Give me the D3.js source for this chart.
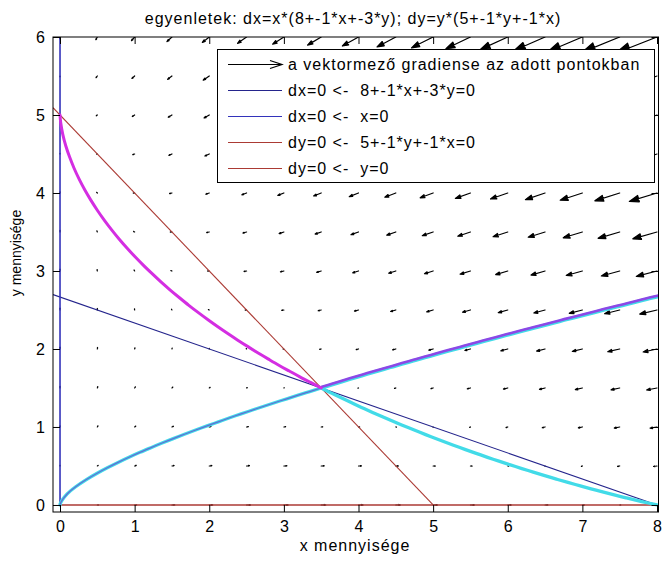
<!DOCTYPE html>
<html><head><meta charset="utf-8">
<script src="https://cdn.jsdelivr.net/npm/d3@7"></script>
<style>
html,body{margin:0;padding:0;background:#fff;}
svg{display:block;font-family:"Liberation Sans",Arial,Helvetica,sans-serif;}
</style></head><body>
<svg id="chart" width="663" height="564"></svg>
<script>
// Lotka–Volterra competition model: dx = x*(a0 + a1*x + a2*y), dy = y*(b0 + b1*y + b2*x)
const dxCoef = [8, -1, -3];
const dyCoef = [5, -1, -1];

// axis ticks
const xTicks = [0, 1, 2, 3, 4, 5, 6, 7, 8];
const yTicks = [0, 1, 2, 3, 4, 5, 6];

// sample points of the direction field
const gridX = [0, 0.5, 1, 1.5, 2, 2.5, 3, 3.5, 4, 4.5, 5, 5.5, 6, 6.5, 7, 7.5, 8];
const gridY = [0, 0.5, 1, 1.5, 2, 2.5, 3, 3.5, 4, 4.5, 5, 5.5, 6];

// separatrices through the saddle point (3.5, 1.5)
const toUpperLeft = [[3.500,1.500],[3.357,1.571],[3.214,1.643],[3.073,1.717],[2.932,1.792],[2.793,1.870],[2.655,1.949],[2.518,2.030],[2.382,2.113],[2.248,2.198],[2.115,2.285],[1.983,2.375],[1.854,2.466],[1.726,2.560],[1.601,2.657],[1.477,2.756],[1.356,2.857],[1.238,2.962],[1.122,3.069],[1.009,3.179],[0.900,3.292],[0.794,3.408],[0.692,3.528],[0.595,3.650],[0.502,3.776],[0.415,3.905],[0.333,4.038],[0.258,4.174],[0.190,4.314],[0.130,4.457],[0.078,4.603],[0.037,4.752],[0.009,4.903],[0.000,5.000]];
const toLowerRight = [[3.500,1.500],[3.644,1.431],[3.789,1.364],[3.935,1.298],[4.081,1.233],[4.228,1.170],[4.376,1.109],[4.524,1.048],[4.673,0.989],[4.822,0.932],[4.972,0.875],[5.122,0.820],[5.273,0.766],[5.425,0.713],[5.577,0.662],[5.729,0.611],[5.882,0.562],[6.035,0.514],[6.189,0.467],[6.342,0.421],[6.496,0.376],[6.651,0.332],[6.806,0.289],[6.961,0.248],[7.116,0.207],[7.271,0.168],[7.427,0.129],[7.584,0.092],[7.741,0.056],[7.898,0.022],[8.000,0.000]];
const fromOrigin = [[3.500,1.500],[3.346,1.454],[3.192,1.408],[3.039,1.361],[2.885,1.314],[2.732,1.266],[2.579,1.217],[2.426,1.168],[2.274,1.118],[2.122,1.066],[1.970,1.014],[1.818,0.961],[1.667,0.907],[1.517,0.851],[1.368,0.794],[1.219,0.735],[1.071,0.675],[0.924,0.612],[0.778,0.546],[0.634,0.477],[0.492,0.404],[0.353,0.326],[0.220,0.240],[0.096,0.141],[0.003,0.016],[0.000,0.000]];
const fromRight = [[3.500,1.500],[3.654,1.545],[3.808,1.590],[3.963,1.634],[4.117,1.678],[4.272,1.721],[4.427,1.764],[4.582,1.806],[4.736,1.849],[4.891,1.890],[5.047,1.932],[5.202,1.973],[5.357,2.014],[5.512,2.055],[5.668,2.095],[5.823,2.135],[5.979,2.175],[6.134,2.214],[6.290,2.253],[6.446,2.292],[6.601,2.331],[6.757,2.370],[6.913,2.408],[7.069,2.446],[7.225,2.484],[7.381,2.522],[7.537,2.559],[7.693,2.597],[7.849,2.634],[8.005,2.671]];

const titleText = `egyenletek: dx=x*(${dxCoef[0]}+${dxCoef[1]}*x+${dxCoef[2]}*y); dy=y*(${dyCoef[0]}+${dyCoef[1]}*y+${dyCoef[2]}*x)`;
const legendLabels = [
  "a vektormező gradiense az adott pontokban",
  `dx=0 <-  ${dxCoef[0]}+${dxCoef[1]}*x+${dxCoef[2]}*y=0`,
  "dx=0 <-  x=0",
  `dy=0 <-  ${dyCoef[0]}+${dyCoef[1]}*y+${dyCoef[2]}*x=0`,
  "dy=0 <-  y=0"
];

const C = {
  quiver: "#000000",
  dxLine: "#24248c",
  xAxisLine: "#3333bb",
  dyLine: "#ab3a34",
  magenta: "#d42ee2",
  violet: "#8c48e6",
  cyan: "#42dbe8"
};

const svg = d3.select("#chart");
svg.append("rect").attr("width", 663).attr("height", 564).attr("fill", "#fff");

const box = {l: 53, r: 658.5, t: 37, b: 512};
const x = d3.scaleLinear().domain([-0.094, 8.02]).range([box.l, box.r]);
const y = d3.scaleLinear().domain([-0.09, 6]).range([box.b, box.t]);

svg.append("clipPath").attr("id", "plotclip").append("rect")
  .attr("x", box.l).attr("y", box.t).attr("width", box.r - box.l).attr("height", box.b - box.t);
const plot = svg.append("g").attr("clip-path", "url(#plotclip)");

// ---- direction field (quiver with automatic scaling) ----
const field = [];
gridY.forEach(gy => gridX.forEach(gx => {
  const u = gx * (dxCoef[0] + dxCoef[1] * gx + dxCoef[2] * gy);
  const v = gy * (dyCoef[0] + dyCoef[1] * gy + dyCoef[2] * gx);
  field.push({gx, gy, u, v});
}));
const delx = (d3.max(gridX) - d3.min(gridX)) / gridX.length;
const dely = (d3.max(gridY) - d3.min(gridY)) / gridY.length;
const del = delx * delx + dely * dely;
const maxLen = d3.max(field, d => Math.sqrt((d.u * d.u + d.v * d.v) / del));
const autoscale = 0.9 / maxLen;
const alpha = 0.33, beta = 0.33;
const arrowPath = d => {
  const u = d.u * autoscale, v = d.v * autoscale;
  const tx = d.gx + u, ty = d.gy + v;
  const h1x = tx - alpha * (u + beta * v), h1y = ty - alpha * (v - beta * u);
  const h2x = tx - alpha * (u - beta * v), h2y = ty - alpha * (v + beta * u);
  return `M${x(d.gx)},${y(d.gy)}L${x(tx)},${y(ty)}M${x(h1x)},${y(h1y)}L${x(tx)},${y(ty)}L${x(h2x)},${y(h2y)}Z`;
};
plot.append("g").selectAll("path").data(field).join("path")
  .attr("d", arrowPath)
  .attr("fill", C.quiver).attr("stroke", C.quiver).attr("stroke-width", 1.2)
  .attr("stroke-linejoin", "round").attr("stroke-linecap", "round");

// ---- nullclines ----
const xMin = x.domain()[0];
const dxRoot = -dxCoef[0] / dxCoef[1];
const dyRoot = -dyCoef[0] / dyCoef[2];
const dxNull = [[xMin, -(dxCoef[0] + dxCoef[1] * xMin) / dxCoef[2]], [dxRoot, 0]];
const dyNull = [[xMin, -(dyCoef[0] + dyCoef[2] * xMin) / dyCoef[1]], [dyRoot, 0]];
const line = d3.line().x(d => x(d[0])).y(d => y(d[1]));

plot.append("path").attr("d", line(dxNull)).attr("fill", "none").attr("stroke", C.dxLine).attr("stroke-width", 1.1);
plot.append("path").attr("d", line([[0, 0], [0, 6]])).attr("fill", "none").attr("stroke", C.xAxisLine).attr("stroke-width", 1.6);
plot.append("path").attr("d", line(dyNull)).attr("fill", "none").attr("stroke", C.dyLine).attr("stroke-width", 1.1);
plot.append("path").attr("d", line([[0, 0], [8, 0]])).attr("fill", "none").attr("stroke", C.dyLine).attr("stroke-width", 1.5);

// ---- separatrices ----
const smooth = d3.line().x(d => x(d[0])).y(d => y(d[1])).curve(d3.curveCatmullRom);
const traj = plot.append("g").attr("fill", "none").attr("stroke-linecap", "round");
traj.append("path").attr("d", smooth(fromRight)).attr("stroke", C.cyan).attr("stroke-width", 3.6);
traj.append("path").attr("d", smooth(fromOrigin)).attr("stroke", C.cyan).attr("stroke-width", 3.3);
traj.append("path").attr("d", smooth(toLowerRight)).attr("stroke", C.cyan).attr("stroke-width", 3.3);
traj.append("path").attr("d", smooth(fromOrigin)).attr("stroke", "#6a50d0").attr("stroke-width", 1.2).attr("opacity", 0.8);
traj.append("path").attr("d", smooth(fromRight)).attr("stroke", C.violet).attr("stroke-width", 2.6)
  .attr("transform", "translate(0,-1)");
traj.append("path").attr("d", smooth(toUpperLeft)).attr("stroke", C.magenta).attr("stroke-width", 3);

// ---- axes box and ticks ----
const tickStyle = g => {
  g.select(".domain").remove();
  g.attr("font-size", null).attr("font-family", null);
  g.selectAll(".tick line").attr("stroke", "#000").attr("stroke-width", 1);
  g.selectAll(".tick text").attr("fill", "#000").style("font-size", "16px");
};
svg.append("g").attr("transform", `translate(0,${box.b})`)
  .call(d3.axisBottom(x).tickValues(xTicks).tickSizeInner(-7).tickSizeOuter(0).tickPadding(9).tickFormat(d3.format("d")))
  .call(tickStyle);
svg.append("g").attr("transform", `translate(0,${box.t})`)
  .call(d3.axisTop(x).tickValues(xTicks).tickSizeInner(-7).tickSizeOuter(0).tickFormat(""))
  .call(tickStyle);
svg.append("g").attr("transform", `translate(${box.l},0)`)
  .call(d3.axisLeft(y).tickValues(yTicks).tickSizeInner(-7).tickSizeOuter(0).tickPadding(8).tickFormat(d3.format("d")))
  .call(tickStyle);
svg.append("g").attr("transform", `translate(${box.r},0)`)
  .call(d3.axisRight(y).tickValues(yTicks).tickSizeInner(-7).tickSizeOuter(0).tickFormat(""))
  .call(tickStyle);
svg.append("rect").attr("x", box.l).attr("y", box.t).attr("width", box.r - box.l).attr("height", box.b - box.t)
  .attr("fill", "none").attr("stroke", "#000").attr("stroke-width", 1);

// ---- titles ----
const label = (t) => t.attr("fill", "#000").style("font-size", "16px").style("letter-spacing", "1px").style("white-space", "pre");
label(svg.append("text").attr("x", 353).attr("y", 24).attr("text-anchor", "middle").text(titleText));
label(svg.append("text").attr("x", 355).attr("y", 551).attr("text-anchor", "middle").text("x mennyisége"));
svg.append("text").attr("transform", "translate(21,253) rotate(-90)").attr("text-anchor", "middle")
  .style("font-size", "14px").attr("fill", "#000").text("y mennyisége");

// ---- legend ----
const lg = svg.append("g");
lg.append("rect").attr("x", 217.5).attr("y", 49.5).attr("width", 437).attr("height", 133)
  .attr("fill", "#fff").attr("stroke", "#000").attr("stroke-width", 1);
const legendStroke = [C.quiver, C.dxLine, C.xAxisLine, C.dyLine, C.dyLine];
legendLabels.forEach((t, i) => {
  const cy = 64.5 + i * 26;
  lg.append("path")
    .attr("d", i === 0
      ? `M228,${cy}L282,${cy}M270,${cy - 4}L282,${cy}L270,${cy + 4}`
      : `M228,${cy}L282,${cy}`)
    .attr("fill", "none").attr("stroke", legendStroke[i]).attr("stroke-width", i === 0 ? 1.2 : 1.1);
  label(lg.append("text").attr("x", 288).attr("y", cy + 5.5).text(t));
});
</script></body></html>
